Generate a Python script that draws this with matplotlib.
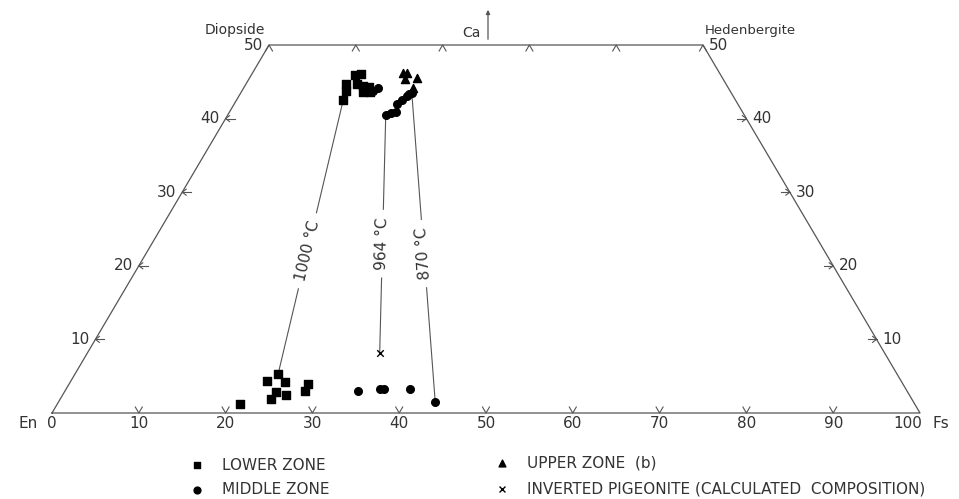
import matplotlib
matplotlib.use("Agg")
import matplotlib.pyplot as plt
import numpy as np

# compositions: Fs (%) and Ca (Wo, %)
lower_fs = [21.1, 22.6, 23.4, 24.7, 24.3, 24.3, 25.7, 27.5, 27.7,
            12.3, 11.5, 12.0, 12.0, 12.6, 12.8, 13.6, 14.0, 14.4, 14.8]
lower_ca = [1.2, 4.3, 5.3, 4.2, 2.9, 1.9, 2.5, 3.9, 3.0,
            42.5, 44.7, 43.8, 45.9, 46.1, 44.7, 44.4, 43.6, 44.3, 43.6]

middle_fs = [33.7, 36.1, 36.6, 39.6, 43.4,
             15.1, 15.4, 18.2, 18.7, 19.2, 18.8, 19.1, 19.3, 19.5, 19.7]
middle_ca = [3.0, 3.3, 3.2, 3.3, 1.5,
             43.8, 44.2, 40.5, 40.8, 40.9, 42.0, 42.5, 43.1, 43.3, 43.5]

upper_fs = [17.3, 17.8, 18.0, 19.3, 19.5]
upper_ca = [46.2, 46.2, 45.4, 45.5, 44.2]

pig_fs = [33.7]
pig_ca = [8.1]

# tie lines: (Fs1, Ca1, Fs2, Ca2), label, position along line
tie_lines = [(12.3, 42.5, 23.4, 5.3), (18.2, 40.5, 33.7, 8.1), (19.7, 43.5, 43.4, 1.5)]
tie_labels = ["1000 °C", "964 °C", "870 °C"]
tie_pos = [0.55, 0.54, 0.52]

bottom_ticks = [0, 10, 20, 30, 40, 50, 60, 70, 80, 90, 100]
side_ticks = [10, 20, 30, 40, 50]

LINE = "#555555"
TEXT = "#333333"

# pixel scale of the plot units
PX_X = 8.68
PX_Y = 7.36


def proj(fs, ca):
    fs = np.asarray(fs, dtype=float)
    ca = np.asarray(ca, dtype=float)
    return fs + ca / 2.0, ca


def px(dx, dy):
    return dx / PX_X, dy / PX_Y


fig = plt.figure(figsize=(9.59, 4.99), dpi=100)
ax = fig.add_axes([0, 0, 1, 1])
ax.set_xlim(-52 / PX_X, (959 - 52) / PX_X)
ax.set_ylim(-(499 - 413) / PX_Y, 413 / PX_Y)
ax.axis("off")

# quadrilateral outline
cx, cy = proj([0, 100, 50, 0, 0], [0, 0, 50, 50, 0])
ax.plot(cx, cy, color=LINE, lw=0.9)

# tick marks
for v in bottom_ticks[1:-1]:
    x0, y0 = proj(v, 0)
    a, b = px(3.5, 6)
    ax.plot([x0 - a, x0, x0 + a], [y0 + b, y0, y0 + b], color=LINE, lw=0.8)
for v in [0, 10, 20, 30, 40, 50]:
    x0, y0 = proj(v, 50)
    a, b = px(3.5, 6)
    ax.plot([x0 - a, x0, x0 + a], [y0 - b, y0, y0 - b], color=LINE, lw=0.8)
for v in side_ticks[:-1]:
    # left edge arrows
    x0, y0 = proj(0, v)
    L, _ = px(9, 0)
    h1, h2 = px(4, 3)
    ax.plot([x0, x0 + L], [y0, y0], color=LINE, lw=0.8)
    ax.plot([x0 + h1, x0, x0 + h1], [y0 + h2, y0, y0 - h2], color=LINE, lw=0.8)
    # right edge arrows
    x0, y0 = proj(100 - v, v)
    ax.plot([x0 - L, x0], [y0, y0], color=LINE, lw=0.8)
    ax.plot([x0 - h1, x0, x0 - h1], [y0 + h2, y0, y0 - h2], color=LINE, lw=0.8)

# tick labels
fs_lab = 11
for v in bottom_ticks:
    x0, y0 = proj(v, 0)
    if v == 100:
        ax.text(x0 + px(2, 0)[0], y0 - px(0, 11)[1], "100", ha="right", va="center",
                fontsize=fs_lab, color=TEXT)
    else:
        ax.text(x0, y0 - px(0, 11)[1], str(v), ha="center", va="center",
                fontsize=fs_lab, color=TEXT)
for v in side_ticks:
    x0, y0 = proj(0, v)
    ax.text(x0 - px(6, 0)[0], y0, str(v), ha="right", va="center", fontsize=fs_lab, color=TEXT)
    x0, y0 = proj(100 - v, v)
    ax.text(x0 + px(6, 0)[0], y0, str(v), ha="left", va="center", fontsize=fs_lab, color=TEXT)

# corner / axis names
x0, y0 = proj(0, 0)
ax.text(x0 - px(14, 0)[0], y0 - px(0, 11)[1], "En", ha="right", va="center", fontsize=fs_lab, color=TEXT)
x0, y0 = proj(100, 0)
ax.text(x0 + px(12, 0)[0], y0 - px(0, 11)[1], "Fs", ha="left", va="center", fontsize=fs_lab, color=TEXT)
x0, y0 = proj(0, 50)
ax.text(x0 - px(4, 0)[0], y0 + px(0, 15)[1], "Diopside", ha="right", va="center", fontsize=10, color=TEXT)
x0, y0 = proj(50, 50)
ax.text(x0 + px(2, 0)[0], y0 + px(0, 15)[1], "Hedenbergite", ha="left", va="center", fontsize=9.5, color=TEXT)

# Ca arrow
x0, y0 = proj(25, 50)
xa = x0 + px(2, 0)[0]
ax.annotate("", xy=(xa, y0 + px(0, 38)[1]), xytext=(xa, y0 + px(0, 3)[1]),
            arrowprops=dict(arrowstyle="-|>", color=LINE, lw=0.9, mutation_scale=6))
ax.text(xa - px(7, 0)[0], y0 + px(0, 12)[1], "Ca", ha="right", va="center", fontsize=10, color=TEXT)

# tie lines with labels
fig.canvas.draw()
for (f1, c1, f2, c2), lab, t in zip(tie_lines, tie_labels, tie_pos):
    x1, y1 = proj(f1, c1)
    x2, y2 = proj(f2, c2)
    ax.plot([x1, x2], [y1, y2], color=LINE, lw=0.8, zorder=1)
    d1 = ax.transData.transform((x1, y1))
    d2 = ax.transData.transform((x2, y2))
    ang = np.degrees(np.arctan2(d1[1] - d2[1], d1[0] - d2[0]))
    xm = x2 + (x1 - x2) * (1 - t)
    ym = y2 + (y1 - y2) * (1 - t)
    ax.text(xm, ym, lab, rotation=ang, rotation_mode="anchor", ha="center", va="center",
            fontsize=11, color=TEXT, zorder=2,
            bbox=dict(boxstyle="square,pad=0.5", fc="white", ec="none"))

# data points
x, y = proj(lower_fs, lower_ca)
ax.scatter(x, y, marker="s", s=30, color="black", zorder=3)
x, y = proj(middle_fs, middle_ca)
ax.scatter(x, y, marker="o", s=30, color="black", zorder=3)
x, y = proj(upper_fs, upper_ca)
ax.scatter(x, y, marker="^", s=34, color="black", zorder=3)
x, y = proj(pig_fs, pig_ca)
ax.scatter(x, y, marker="x", s=22, color="black", lw=1.0, zorder=3)

# legend
legend_items = [("s", "LOWER ZONE", 197, 465), ("o", "MIDDLE ZONE", 197, 490),
                ("^", "UPPER ZONE  (b)", 502, 463), ("x", "INVERTED PIGEONITE (CALCULATED  COMPOSITION)", 502, 489)]
for m, lab, lx, ly in legend_items:
    xx = (lx - 52) / PX_X
    yy = (413 - ly) / PX_Y
    ax.scatter([xx], [yy], marker=m, s=24 if m != "x" else 18, color="black", lw=1.0)
    ax.text(xx + 25 / PX_X, yy, lab, ha="left", va="center", fontsize=11, color=TEXT)

fig.savefig("out.png", dpi=100)
